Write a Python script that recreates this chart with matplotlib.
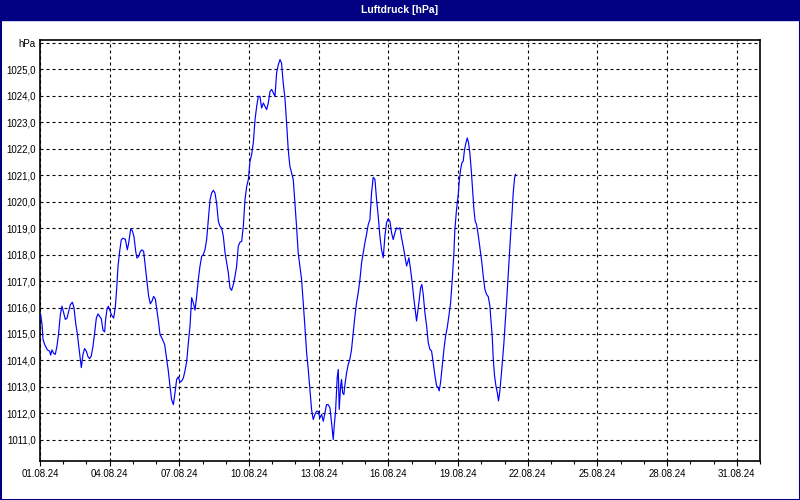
"""
Luftdruck chart - August 2024 pressure log, redrawn with matplotlib.
"""

from datetime import datetime, timedelta

import matplotlib
matplotlib.use("Agg")
import matplotlib.pyplot as plt
import matplotlib.dates as mdates
from matplotlib.patches import Rectangle
from matplotlib.ticker import FixedLocator, FixedFormatter

# --- data -----------------------------------------------------------------
START = datetime(2024, 8, 1)
END = datetime(2024, 9, 1)

# hours since 01.08.24 00:00
hours = [
    0.7, 2.1, 3.1, 4.8, 7.6, 10.0, 11.0, 12.4, 14.1, 15.8,
    17.6, 19.3, 21.0, 22.7, 24.5, 26.2, 27.9, 29.6, 31.3, 33.4,
    35.1, 36.9, 38.6, 40.0, 41.7, 42.7, 44.4, 46.1, 47.9, 49.6,
    51.3, 53.0, 54.8, 56.5, 58.2, 59.9, 61.6, 63.4, 65.1, 66.8,
    67.8, 69.2, 70.6, 72.0, 73.7, 76.1, 77.8, 79.2, 80.6, 82.3,
    84.0, 85.7, 88.2, 90.2, 91.6, 93.7, 95.4, 97.1, 98.9, 100.2,
    101.9, 103.7, 105.4, 107.1, 108.8, 110.5, 112.3, 114.0, 115.7, 117.4,
    119.2, 120.9, 122.6, 124.0,
    126.7, 128.8, 130.9, 132.6, 134.3, 136.0, 137.8, 139.5, 141.2, 142.9,
    144.7, 146.4, 148.1, 149.8, 151.6, 153.3, 155.0, 156.7, 158.4, 160.2,
    161.9, 163.6, 165.3, 167.1, 168.8, 170.5, 172.2, 173.9, 175.7, 177.4,
    179.1, 180.8, 182.5, 184.3, 186.0, 187.7, 189.4, 191.2, 192.9, 194.6,
    196.3, 198.0, 199.8, 201.5, 203.2, 204.9, 206.7, 208.4, 210.1, 211.8,
    213.6, 215.3, 217.0, 218.7, 220.4, 222.2, 223.9, 225.6, 227.3, 229.0,
    230.8, 232.5, 234.2, 235.9, 237.7, 239.4, 241.1, 242.8, 244.5, 246.3,
    248.0,
    249.6, 251.3, 253.1, 254.8, 256.5, 258.2, 260.0, 261.7, 263.4, 265.1,
    266.8, 268.6, 270.3, 272.0, 273.7, 275.5, 277.2, 278.9, 280.6, 282.3,
    284.1, 285.8, 287.5, 289.2, 291.0, 292.7, 294.4, 296.1, 297.8, 299.6,
    301.3, 303.0, 304.0, 305.4, 307.1, 308.2, 309.2, 310.6, 311.6, 312.7,
    314.0, 315.1, 316.8, 318.5, 320.2, 321.9, 323.7, 325.4, 327.1, 328.8,
    330.6, 332.3, 334.0, 335.7, 337.4, 339.2, 340.9, 342.6, 344.3, 346.1,
    347.8, 349.5, 351.2, 352.9, 354.7, 356.4, 358.1, 359.8, 361.6, 363.3,
    365.0, 366.7, 368.4, 370.2,
    371.9, 373.6, 375.3, 377.1, 378.8, 379.8, 381.2, 382.9, 384.6, 386.4,
    388.1, 389.1, 390.2, 391.5, 393.3, 394.6, 396.0, 397.7, 399.5, 401.2,
    402.9, 404.6, 406.3, 408.1, 409.8, 411.5, 412.5, 413.9, 415.6, 417.4,
    419.1, 420.8, 422.5, 424.3, 426.0, 427.7, 428.7, 430.4, 432.2, 433.2,
    434.6, 436.0, 437.3, 438.7, 440.1, 441.5, 442.8, 444.2, 445.6, 447.0,
    448.4, 449.7, 451.1, 452.5, 453.9, 455.2, 456.6, 458.0, 459.7, 461.4,
    463.2, 464.9, 465.9, 467.3, 468.3, 469.7, 471.1, 472.5, 473.8, 475.2,
    476.6, 478.0, 479.4, 480.7, 482.1, 483.5, 484.9, 486.3, 487.6, 489.0,
    490.4, 491.4,
]

# pressure in hPa
hpa = [
    1015.73, 1015.36, 1014.80, 1014.60, 1014.40, 1014.35, 1014.20, 1014.40, 1014.27, 1014.23,
    1014.55, 1015.05, 1015.73, 1016.05, 1015.80, 1015.55, 1015.60, 1015.85, 1016.10, 1016.20,
    1016.00, 1015.40, 1015.00, 1014.55, 1014.05, 1013.73, 1014.23, 1014.45, 1014.35, 1014.14,
    1014.07, 1014.17, 1014.55, 1015.05, 1015.60, 1015.76, 1015.67, 1015.57, 1015.14, 1015.08,
    1015.55, 1015.92, 1016.05, 1015.92, 1015.73, 1015.60, 1016.00, 1016.70, 1017.55, 1018.12,
    1018.56, 1018.62, 1018.58, 1018.18, 1018.43, 1018.97, 1018.90, 1018.68, 1018.12, 1017.87,
    1017.93, 1018.12, 1018.18, 1018.12, 1017.55, 1016.99, 1016.42, 1016.14, 1016.24, 1016.42,
    1016.32, 1015.86, 1015.42, 1014.98,
    1014.79, 1014.60, 1014.04, 1013.60, 1013.03, 1012.52, 1012.33, 1012.78, 1013.28, 1013.38,
    1013.18, 1013.22, 1013.34, 1013.60, 1013.97, 1014.67, 1015.30, 1016.37, 1016.18, 1015.90,
    1016.43, 1017.06, 1017.56, 1017.94, 1018.00, 1018.19, 1018.57, 1019.32, 1020.08, 1020.33,
    1020.43, 1020.33, 1019.95, 1019.26, 1019.07, 1019.00, 1018.70, 1018.07, 1017.69, 1017.31,
    1016.74, 1016.65, 1016.87, 1017.18, 1017.56, 1018.32, 1018.47, 1018.50, 1019.07, 1020.08,
    1020.58, 1020.84, 1021.53, 1021.78, 1022.22, 1023.10, 1023.60, 1023.98, 1023.98, 1023.54,
    1023.73, 1023.60, 1023.48, 1023.73, 1024.17, 1024.24, 1024.11, 1023.98, 1024.87, 1025.18,
    1025.37,
    1025.24, 1024.49, 1023.92, 1022.98, 1021.97, 1021.34, 1021.09, 1020.84, 1019.95, 1019.07,
    1018.07, 1017.56, 1017.06, 1016.18, 1015.30, 1014.29, 1013.66, 1012.90, 1012.15, 1011.77,
    1011.96, 1012.08, 1012.08, 1011.83, 1011.96, 1011.70, 1012.02, 1012.33, 1012.33, 1012.21,
    1011.64, 1011.01, 1011.52, 1012.08, 1013.34, 1013.66, 1012.15, 1013.03, 1013.28, 1012.78,
    1012.71, 1013.09, 1013.53, 1013.85, 1014.04, 1014.41, 1015.04, 1015.67, 1016.18, 1016.55,
    1017.06, 1017.69, 1018.07, 1018.44, 1018.76, 1019.14, 1019.32, 1020.33, 1020.92, 1020.84,
    1020.08, 1019.45, 1018.70, 1018.19, 1017.88, 1018.70, 1019.20, 1019.36, 1019.26, 1018.82,
    1018.57, 1018.82, 1019.01, 1018.97,
    1019.01, 1018.64, 1018.32, 1017.94, 1017.57, 1017.69, 1017.88, 1017.44, 1016.94, 1016.31,
    1015.81, 1015.49, 1015.81, 1016.18, 1016.75, 1016.87, 1016.50, 1015.81, 1015.30, 1014.67,
    1014.42, 1014.36, 1013.92, 1013.42, 1013.04, 1012.97, 1012.85, 1013.16, 1013.79, 1014.42,
    1014.92, 1015.24, 1015.68, 1016.18, 1017.06, 1018.07, 1018.95, 1019.70, 1020.27, 1020.77,
    1021.21, 1021.47, 1021.53, 1021.97, 1022.22, 1022.41, 1022.22, 1021.84, 1021.21, 1020.46,
    1019.70, 1019.26, 1019.14, 1018.82, 1018.45, 1018.07, 1017.69, 1017.19, 1016.69, 1016.50,
    1016.41, 1016.06, 1015.55, 1014.92, 1014.11, 1013.42, 1013.04, 1012.79, 1012.47, 1012.85,
    1013.42, 1014.04, 1014.67, 1015.43, 1016.18, 1017.06, 1017.94, 1018.76, 1019.45, 1020.33,
    1020.90, 1021.03,
]

# labelled days of August (every third day)
x_tick_days = [1, 4, 7, 10, 13, 16, 19, 22, 25, 28, 31]

y_ticks = list(range(1011, 1027))
y_labels = [f"{v},0" for v in range(1011, 1026)] + ["hPa"]

TITLE = "Luftdruck [hPa]"
NAVY = "#000080"
LINE_BLUE = "#0000FF"


def draw_chart(filename="out.png"):
    """Draw the pressure curve in the style of the weather-station export."""
    assert len(hours) == len(hpa)
    times = [START + timedelta(hours=h) for h in hours]

    plt.rcParams["font.family"] = ["Liberation Sans", "DejaVu Sans"]

    fig = plt.figure(figsize=(8, 5), dpi=100, facecolor="white")
    ax = fig.add_axes([40 / 800, 1 - 461 / 500, 720 / 800, 421 / 500])

    # title bar + frame
    fig.add_artist(Rectangle((0, 1 - 20 / 500), 1, 20 / 500,
                             transform=fig.transFigure, color=NAVY, zorder=5))
    fig.add_artist(Rectangle((0, 0), 1, 1, transform=fig.transFigure,
                             fill=False, edgecolor=NAVY, linewidth=2.2, zorder=5))
    fig.text(0.5, 1 - 10 / 500, TITLE, color="white", fontsize=7.5,
             fontweight="bold", ha="center", va="center", zorder=6)

    ax.plot(times, hpa, color=LINE_BLUE, linewidth=0.85, zorder=3)

    ax.set_xlim(START, END)
    ax.set_ylim(1010.2, 1026.11)

    # x axis: a label every 3 days, small tick every day
    major_dates = [mdates.date2num(datetime(2024, 8, d)) for d in x_tick_days]
    ax.xaxis.set_major_locator(FixedLocator(major_dates))
    ax.xaxis.set_minor_locator(mdates.DayLocator())
    ax.xaxis.set_major_formatter(mdates.DateFormatter("%d.%m.%y"))
    ax.tick_params(axis="x", which="major", length=3.5, width=0.8,
                   labelsize=7, pad=2.5)
    ax.tick_params(axis="x", which="minor", length=2.5, width=0.8)

    # y axis: comma decimals, unit on top
    ax.yaxis.set_major_locator(FixedLocator(y_ticks))
    ax.yaxis.set_major_formatter(FixedFormatter(y_labels))
    ax.tick_params(axis="y", length=0, labelsize=7, pad=3)

    ax.grid(True, which="major", color="black", linewidth=0.8,
            linestyle=(0, (2.7, 2.7)))
    for spine in ax.spines.values():
        spine.set_color("black")
        spine.set_linewidth(1.2)

    fig.savefig(filename, dpi=100, facecolor="white")
    plt.close(fig)
    return filename


if __name__ == "__main__":
    draw_chart()
